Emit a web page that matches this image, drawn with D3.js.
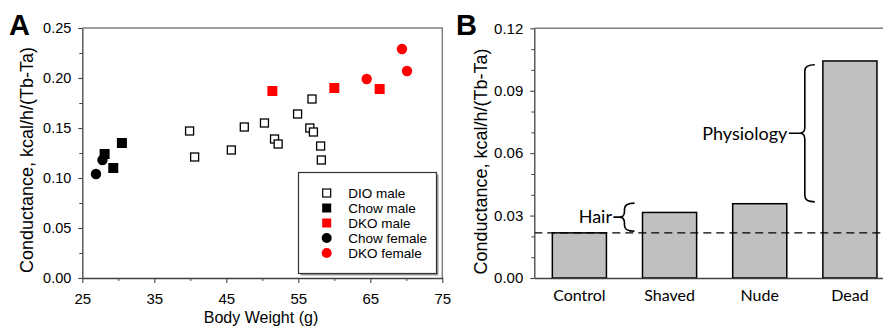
<!DOCTYPE html>
<html>
<head>
<meta charset="utf-8">
<script src="https://cdn.jsdelivr.net/npm/d3@7"></script>
<style>
  body { margin: 0; background: #fff; }
  svg { display: block; }
  .tick text { font-family: "Liberation Sans", Arial, sans-serif; fill: #000; }
</style>
</head>
<body>
<div id="chart"></div>
<script>
// ---- panel A data: body weight (g) vs conductance ----
const dioMale = [
  { w: 39.9, c: 0.147 }, { w: 40.6, c: 0.121 }, { w: 45.7, c: 0.128 },
  { w: 47.5, c: 0.151 }, { w: 50.3, c: 0.155 }, { w: 51.7, c: 0.139 },
  { w: 52.2, c: 0.134 }, { w: 54.9, c: 0.164 }, { w: 56.6, c: 0.150 },
  { w: 56.9, c: 0.179 }, { w: 57.1, c: 0.146 }, { w: 58.1, c: 0.132 },
  { w: 58.2, c: 0.118 }
];
const chowMale = [{ w: 28.1, c: 0.124 }, { w: 30.5, c: 0.135 }, { w: 29.3, c: 0.110 }];
const dkoMale = [{ w: 51.4, c: 0.187 }, { w: 60.0, c: 0.190 }, { w: 66.3, c: 0.189 }];
const chowFemale = [{ w: 27.8, c: 0.118 }, { w: 26.9, c: 0.104 }];
const dkoFemale = [{ w: 64.5, c: 0.199 }, { w: 69.4, c: 0.229 }, { w: 70.1, c: 0.207 }];

const xTicksA = [25, 35, 45, 55, 65, 75];
const xMinorA = [30, 40, 50, 60, 70];
const yTicksA = [0, 0.05, 0.10, 0.15, 0.20, 0.25];
const yMinorA = [0.025, 0.075, 0.125, 0.175, 0.225];

// ---- panel B data ----
const barCategories = ['Control', 'Shaved', 'Nude', 'Dead'];
const barValues = [0.0217, 0.0315, 0.0357, 0.1043];
const yTicksB = [0, 0.03, 0.06, 0.09, 0.12];
const yMinorB = [0.01, 0.02, 0.04, 0.05, 0.07, 0.08, 0.10, 0.11];
// brace annotations in data units: [bottom, top]
const hairBrace = [0.0225, 0.0360];
const physBrace = [0.0366, 0.1025];

const W = 883, H = 326;
const arial = '"Liberation Sans", Arial, sans-serif';
const calibri = 'Lato, "Open Sans", sans-serif';

const svg = d3.select('#chart').append('svg')
  .attr('width', W).attr('height', H);

// ================= Panel A =================
const xA = d3.scaleLinear().domain([25, 75]).range([82.3, 442.3]);
const yA = d3.scaleLinear().domain([0, 0.25]).range([278, 28]);

const gA = svg.append('g');

// frame (top + right)
gA.append('path')
  .attr('d', `M${xA(25)},${yA(0.25)}H${xA(75)}V${yA(0)}`)
  .attr('fill', 'none').attr('stroke', '#808080').attr('stroke-width', 1.5);

function styleAxis(g, size) {
  g.select('.domain').attr('stroke', '#404040').attr('stroke-width', 1.3);
  g.selectAll('.tick line').attr('stroke', '#404040').attr('stroke-width', 1.1);
  g.selectAll('.tick text').style('font-size', size + 'px');
}

gA.append('g')
  .attr('transform', `translate(${xA(25)},0)`)
  .call(d3.axisLeft(yA).tickValues(yMinorA).tickSize(3).tickSizeOuter(0).tickFormat(''))
  .call(g => g.select('.domain').remove())
  .call(g => g.selectAll('.tick line').attr('stroke', '#404040'));
gA.append('g')
  .attr('transform', `translate(${xA(25)},0)`)
  .call(d3.axisLeft(yA).tickValues(yTicksA).tickSize(4).tickSizeOuter(0)
    .tickPadding(7).tickFormat(d3.format('.2f')))
  .call(g => styleAxis(g, 14.5));

gA.append('g')
  .attr('transform', `translate(0,${yA(0)})`)
  .call(d3.axisBottom(xA).tickValues(xMinorA).tickSize(3).tickSizeOuter(0).tickFormat(''))
  .call(g => g.select('.domain').remove())
  .call(g => g.selectAll('.tick line').attr('stroke', '#404040'));
gA.append('g')
  .attr('transform', `translate(0,${yA(0)})`)
  .call(d3.axisBottom(xA).tickValues(xTicksA).tickSize(5).tickSizeOuter(0).tickPadding(10))
  .call(g => styleAxis(g, 15));

// axis titles
gA.append('text')
  .attr('transform', 'translate(33,160) rotate(-90)')
  .attr('text-anchor', 'middle')
  .style('font-family', arial).style('font-size', '18px')
  .text('Conductance, kcal/h/(Tb-Ta)');
gA.append('text')
  .attr('x', 261).attr('y', 323)
  .attr('text-anchor', 'middle')
  .style('font-family', arial).style('font-size', '16px')
  .text('Body Weight (g)');

gA.append('text')
  .attr('x', 9).attr('y', 35)
  .style('font-family', arial).style('font-size', '29px').style('font-weight', 'bold')
  .text('A');

// points
const sq = 10, r = 5.2;
gA.selectAll('.dio').data(dioMale).enter().append('rect')
  .attr('x', d => xA(d.w) - 4).attr('y', d => yA(d.c) - 4)
  .attr('width', 8).attr('height', 8)
  .attr('fill', '#fff').attr('stroke', '#000').attr('stroke-width', 1.3);
gA.selectAll('.cm').data(chowMale).enter().append('rect')
  .attr('x', d => xA(d.w) - sq / 2).attr('y', d => yA(d.c) - sq / 2)
  .attr('width', sq).attr('height', sq).attr('fill', '#000');
gA.selectAll('.cf').data(chowFemale).enter().append('circle')
  .attr('cx', d => xA(d.w)).attr('cy', d => yA(d.c)).attr('r', r).attr('fill', '#000');
gA.selectAll('.dm').data(dkoMale).enter().append('rect')
  .attr('x', d => xA(d.w) - sq / 2).attr('y', d => yA(d.c) - sq / 2)
  .attr('width', sq).attr('height', sq).attr('fill', '#ff0000');
gA.selectAll('.df').data(dkoFemale).enter().append('circle')
  .attr('cx', d => xA(d.w)).attr('cy', d => yA(d.c)).attr('r', r).attr('fill', '#ff0000');

// legend
const legendItems = [
  { label: 'DIO male', shape: 'open' },
  { label: 'Chow male', shape: 'square', color: '#000' },
  { label: 'DKO male', shape: 'square', color: '#ff0000' },
  { label: 'Chow female', shape: 'circle', color: '#000' },
  { label: 'DKO female', shape: 'circle', color: '#ff0000' }
];
const lg = gA.append('g');
lg.append('rect').attr('x', 300.5).attr('y', 174.5).attr('width', 138).attr('height', 101)
  .attr('fill', '#999');
lg.append('rect').attr('x', 298.5).attr('y', 172.5).attr('width', 138).attr('height', 101)
  .attr('fill', '#fff').attr('stroke', '#333').attr('stroke-width', 1.2);
legendItems.forEach((d, i) => {
  const cy = 193 + i * 15, cx = 326.7;
  if (d.shape === 'open') {
    lg.append('rect').attr('x', cx - 4).attr('y', cy - 4).attr('width', 8).attr('height', 8)
      .attr('fill', '#fff').attr('stroke', '#000').attr('stroke-width', 1.2);
  } else if (d.shape === 'square') {
    lg.append('rect').attr('x', cx - 4.5).attr('y', cy - 4.5).attr('width', 9).attr('height', 9)
      .attr('fill', d.color);
  } else {
    lg.append('circle').attr('cx', cx).attr('cy', cy).attr('r', 5).attr('fill', d.color);
  }
  lg.append('text').attr('x', 348.3).attr('y', cy + 4.8)
    .style('font-family', arial).style('font-size', '13.5px')
    .text(d.label);
});

// ================= Panel B =================
const xB = d3.scaleBand().domain(barCategories).range([534.3, 895])
  .paddingInner(0.4).paddingOuter(0.2);
const yB = d3.scaleLinear().domain([0, 0.12]).range([278, 28.3]);

const gB = svg.append('g');

gB.append('line')
  .attr('x1', 534.3).attr('x2', W).attr('y1', yB(0.12)).attr('y2', yB(0.12))
  .attr('stroke', '#808080').attr('stroke-width', 1.5);

gB.selectAll('.bar').data(barValues).enter().append('rect')
  .attr('x', (d, i) => xB(barCategories[i]))
  .attr('y', d => yB(d))
  .attr('width', xB.bandwidth())
  .attr('height', d => yB(0) - yB(d))
  .attr('fill', '#c0c0c0').attr('stroke', '#000').attr('stroke-width', 1.5);

// baseline (control) dashed reference
gB.append('line')
  .attr('x1', 534.3).attr('x2', W)
  .attr('y1', yB(barValues[0])).attr('y2', yB(barValues[0]))
  .attr('stroke', '#000').attr('stroke-width', 1.2).attr('stroke-dasharray', '8,5');

gB.append('g')
  .attr('transform', 'translate(534.3,0)')
  .call(d3.axisLeft(yB).tickValues(yMinorB).tickSize(3).tickSizeOuter(0).tickFormat(''))
  .call(g => g.select('.domain').remove())
  .call(g => g.selectAll('.tick line').attr('stroke', '#404040'));
gB.append('g')
  .attr('transform', 'translate(534.3,0)')
  .call(d3.axisLeft(yB).tickValues(yTicksB).tickSize(4).tickSizeOuter(0)
    .tickPadding(7).tickFormat(d3.format('.2f')))
  .call(g => styleAxis(g, 15));
gB.append('g')
  .attr('transform', `translate(0,${yB(0)})`)
  .call(d3.axisBottom(xB).tickSize(0).tickPadding(12))
  .call(g => styleAxis(g, 16))
  .call(g => g.selectAll('.tick text').style('font-family', calibri));

gB.append('text')
  .attr('transform', 'translate(487,161.5) rotate(-90)')
  .attr('text-anchor', 'middle')
  .style('font-family', arial).style('font-size', '18px')
  .text('Conductance, kcal/h/(Tb-Ta)');
gB.append('text')
  .attr('x', 456).attr('y', 35)
  .style('font-family', arial).style('font-size', '29px').style('font-weight', 'bold')
  .text('B');

// curly braces
function brace(x, yTop, yBot, tip) {
  const mid = (yTop + yBot) / 2, c = 6;
  return `M${x + 10},${yTop} Q${x},${yTop} ${x},${yTop + c}` +
    ` L${x},${mid - c} Q${x},${mid} ${x - 5},${mid} L${x - tip},${mid}` +
    ` M${x - 5},${mid} Q${x},${mid} ${x},${mid + c}` +
    ` L${x},${yBot - c} Q${x},${yBot} ${x + 10},${yBot}`;
}
function annotate(i, range, tip, label, size) {
  const x = (xB(barCategories[i]) + xB.bandwidth() + xB(barCategories[i + 1])) / 2;
  const yTop = yB(range[1]), yBot = yB(range[0]);
  gB.append('path').attr('d', brace(x, yTop, yBot, tip))
    .attr('fill', 'none').attr('stroke', '#000').attr('stroke-width', 1.6);
  gB.append('text')
    .attr('x', x - tip - 1.5).attr('y', (yTop + yBot) / 2)
    .attr('dy', '0.35em').attr('text-anchor', 'end')
    .style('font-family', calibri).style('font-size', size + 'px')
    .text(label);
}
annotate(0, hairBrace, 11, 'Hair', 18);
annotate(2, physBrace, 16, 'Physiology', 18);
</script>
</body>
</html>
